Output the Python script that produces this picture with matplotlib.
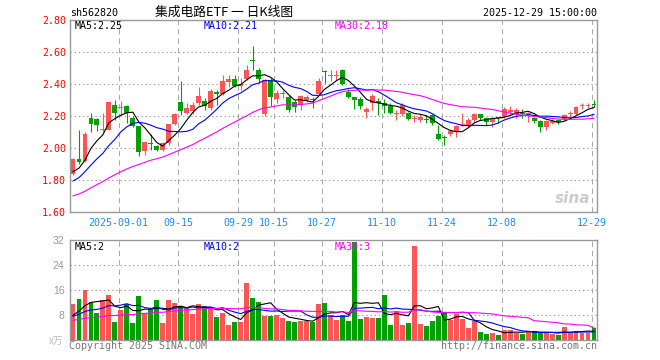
import numpy as np
import matplotlib.pyplot as plt

# 日K数据 (2025-08-20 ~ 2025-12-29)
open_ = [1.84, 1.93, 1.92, 2.19, 2.18, 2.11, 2.11, 2.27, 2.25, 2.26,
         2.185, 2.135, 1.98, 2.03, 2.01, 1.99, 2.03, 2.15, 2.29, 2.22,
         2.23, 2.28, 2.295, 2.25, 2.35, 2.34, 2.41, 2.43, 2.39, 2.43,
         2.55, 2.49, 2.215, 2.425, 2.305, 2.335, 2.32, 2.285, 2.27, 2.30,
         2.302, 2.34, 2.478, 2.45, 2.453, 2.49, 2.35, 2.317, 2.305, 2.228,
         2.28, 2.294, 2.28, 2.265, 2.215, 2.2125, 2.22, 2.18, 2.177, 2.18,
         2.206, 2.0875, 2.063, 2.088, 2.10, 2.145, 2.145, 2.175, 2.2125, 2.19,
         2.16, 2.192, 2.196, 2.222, 2.21, 2.214, 2.206, 2.19, 2.17, 2.13,
         2.155, 2.175, 2.18, 2.211, 2.2125, 2.26, 2.261, 2.27]
high = [1.935, 2.11, 2.10, 2.22, 2.19, 2.22, 2.29, 2.30, 2.294, 2.27,
        2.20, 2.135, 2.045, 2.085, 2.02, 2.04, 2.15, 2.22, 2.42, 2.28,
        2.29, 2.383, 2.31, 2.37, 2.36, 2.456, 2.456, 2.456, 2.435, 2.52,
        2.637, 2.50, 2.43, 2.44, 2.36, 2.36, 2.33, 2.30, 2.33, 2.33,
        2.317, 2.435, 2.4875, 2.4875, 2.4875, 2.495, 2.37, 2.32, 2.32, 2.258,
        2.34, 2.31, 2.304, 2.283, 2.2375, 2.279, 2.227, 2.206, 2.212, 2.206,
        2.2125, 2.144, 2.081, 2.117, 2.144, 2.217, 2.185, 2.221, 2.2125, 2.196,
        2.196, 2.196, 2.258, 2.2625, 2.248, 2.242, 2.227, 2.196, 2.175, 2.175,
        2.179, 2.18, 2.2125, 2.233, 2.2625, 2.283, 2.283, 2.30]
low = [1.83, 1.90, 1.915, 2.10, 2.105, 2.10, 2.11, 2.175, 2.206, 2.155,
       2.13, 1.95, 1.955, 1.987, 1.98, 1.98, 2.02, 2.145, 2.205, 2.21,
       2.21, 2.27, 2.24, 2.24, 2.27, 2.33, 2.38, 2.383, 2.36, 2.425,
       2.487, 2.404, 2.20, 2.26, 2.28, 2.31, 2.227, 2.227, 2.24, 2.29,
       2.252, 2.33, 2.408, 2.42, 2.425, 2.394, 2.31, 2.242, 2.242, 2.185,
       2.237, 2.206, 2.217, 2.21, 2.175, 2.20, 2.175, 2.165, 2.165, 2.154,
       2.144, 2.05, 2.019, 2.075, 2.071, 2.14, 2.133, 2.165, 2.175, 2.144,
       2.133, 2.154, 2.19, 2.206, 2.19, 2.185, 2.165, 2.158, 2.10, 2.112,
       2.15, 2.15, 2.175, 2.192, 2.206, 2.244, 2.248, 2.254]
close = [1.93, 1.91, 2.09, 2.15, 2.145, 2.12, 2.285, 2.22, 2.255, 2.22,
         2.14, 1.975, 2.04, 2.025, 1.99, 2.03, 2.15, 2.21, 2.23, 2.25,
         2.27, 2.325, 2.26, 2.355, 2.34, 2.42, 2.43, 2.39, 2.40, 2.49,
         2.545, 2.43, 2.425, 2.32, 2.345, 2.34, 2.24, 2.255, 2.325, 2.317,
         2.298, 2.42, 2.474, 2.455, 2.458, 2.40, 2.32, 2.30, 2.26, 2.242,
         2.325, 2.28, 2.263, 2.22, 2.218, 2.27, 2.18, 2.19, 2.196, 2.172,
         2.154, 2.056, 2.06, 2.106, 2.137, 2.152, 2.175, 2.2125, 2.185, 2.16,
         2.19, 2.185, 2.242, 2.238, 2.2375, 2.21, 2.22, 2.17, 2.13, 2.17,
         2.168, 2.16, 2.206, 2.214, 2.258, 2.264, 2.265, 2.266]
# 成交量(万手)
volume = [11.6, 13.2, 15.9, 12.1, 8.6, 12.9, 14.5, 5.9, 9.7, 11.6,
          5.5, 14.2, 8.4, 9.8, 12.9, 5.5, 12.9, 11.9, 10.9, 10.6,
          8.4, 11.5, 10.9, 10.1, 7.5, 8.7, 4.8, 5.9, 5.9, 18.2,
          13.5, 12.3, 7.8, 7.8, 8.0, 7.1, 6.1, 5.9, 6.1, 6.1,
          5.9, 11.5, 11.9, 8.0, 6.4, 8.0, 6.1, 31.5, 6.7, 7.4,
          7.0, 7.0, 14.4, 4.8, 9.3, 4.8, 5.4, 30.2, 5.1, 4.5,
          6.1, 7.8, 8.5, 6.4, 8.3, 6.7, 3.9, 6.1, 2.6, 2.0,
          2.2, 1.6, 3.2, 3.2, 2.4, 2.0, 2.7, 2.9, 2.4, 2.2,
          1.9, 1.6, 4.2, 2.4, 2.9, 2.4, 2.4, 3.8]
# 窗口之前29个交易日(用于均线)
prev_close = [1.56, 1.57, 1.53, 1.52, 1.55, 1.60, 1.64, 1.68, 1.70, 1.66,
              1.63, 1.62, 1.64, 1.70, 1.72, 1.70, 1.74, 1.76, 1.78, 1.79,
              1.70, 1.72, 1.74, 1.75, 1.77, 1.80, 1.84, 1.78, 1.91]
prev_volume = [4.8, 5.2, 4.6, 5.5, 6.2, 5.0, 5.8, 6.4, 5.3, 5.9,
               6.1, 5.4, 5.7, 6.0, 5.5, 6.3, 5.6, 5.9, 6.0, 5.8,
               6.8, 7.0, 7.4, 6.8, 8.5, 6.5, 7.2, 6.8, 7.4]

tick_idx = [8, 18, 28, 34, 42, 52, 62, 72, 87]
tick_labels = ['2025-09-01', '09-15', '09-29', '10-15', '10-27',
               '11-10', '11-24', '12-08', '12-29']
price_ticks = [1.60, 1.80, 2.00, 2.20, 2.40, 2.60, 2.80]
vol_ticks = [8, 16, 24, 32]
ma_text = ['MA5:2.25', 'MA10:2.21', 'MA30:2.18']
vol_ma_text = ['MA5:2', 'MA10:2', 'MA30:3']

W, H = 660, 360
RED, GREEN = '#FF5555', '#00A000'
MA_COLORS = ['black', '#0000FF', '#FF00FF']
MONO = 'DejaVu Sans Mono'


def ma(arr, n, size):
    return np.convolve(arr, np.ones(n) / n, mode='valid')[-size:]


def main():
    n = len(close)
    x = np.arange(n)
    o, h, l, c = map(np.array, (open_, high, low, close))
    v = np.array(volume)
    up = c >= o
    colors = np.where(up, RED, GREEN)

    fig = plt.figure(figsize=(W / 100, H / 100), dpi=100)
    ax = fig.add_axes([70 / W, 1 - 212 / H, 527 / W, 192 / H])
    axv = fig.add_axes([70 / W, 1 - 340 / H, 527 / W, 100 / H])

    # K线
    ax.vlines(x, l, h, colors=colors, lw=0.8, zorder=3)
    body = np.maximum(np.abs(c - o), 0.006)
    ax.bar(x, body, bottom=np.minimum(o, c), width=0.82, color=colors,
           lw=0, zorder=4)
    all_c = np.array(prev_close + close)
    for k, col in zip((5, 10, 30), MA_COLORS):
        ax.plot(x, ma(all_c, k, n), color=col, lw=0.8, zorder=5)

    # 成交量
    axv.bar(x, v, width=0.82, color=colors, lw=0, zorder=3)
    all_v = np.array(prev_volume + volume)
    for k, col in zip((5, 10, 30), MA_COLORS):
        axv.plot(x, ma(all_v, k, n), color=col, lw=0.8, zorder=5)

    for a in (ax, axv):
        a.set_xlim(-0.5, n - 0.5)
        for s in a.spines.values():
            s.set_color('#999999')
            s.set_linewidth(1)
        for t in tick_idx:
            a.axvline(t - 0.4, color='#aaaaaa', lw=0.75, ls=(0, (5, 4)),
                      zorder=1)
        a.tick_params(length=0)

    ax.set_ylim(1.60, 2.80)
    ax.set_yticks(price_ticks)
    ax.set_yticklabels([f'{p:.2f}' for p in price_ticks], color='#FF0000',
                       family=MONO, fontsize=7.2)
    ax.tick_params(axis='y', pad=3)
    for p in price_ticks[1:-1]:
        ax.axhline(p, color='#999999', lw=0.75, ls=(0, (1.3, 2.7)), zorder=1)
    ax.set_xticks([t - 0.4 for t in tick_idx])
    ax.set_xticklabels(tick_labels, color='#1E8CF0', family=MONO, fontsize=7.2)
    ax.tick_params(axis='x', pad=4)

    axv.set_ylim(0, 32)
    axv.set_yticks(vol_ticks)
    axv.set_yticklabels([str(t) for t in vol_ticks], color='#999999',
                        family='Liberation Sans', fontsize=7.5)
    axv.tick_params(axis='y', pad=4)
    axv.set_xticks([])
    for t in vol_ticks[:-1]:
        axv.axhline(t, color='#999999', lw=0.75, ls=(0, (1.3, 2.7)), zorder=1)

    def txt(px, py, s, **kw):
        fig.text(px / W, 1 - py / H, s, va='center', **kw)

    txt(70, 13, 'sh562820', family=MONO, fontsize=7.2)
    txt(224, 12.5, '集成电路ETF 一 日K线图', ha='center', fontsize=9.2,
        family=['Noto Sans CJK SC', 'DejaVu Sans'])
    txt(597, 13, '2025-12-29 15:00:00', ha='right', family=MONO, fontsize=7.2)
    for px, s, col in zip((75, 204, 335), ma_text, MA_COLORS):
        txt(px, 26, s, family=MONO, fontsize=7.2, color=col)
    for px, s, col in zip((75, 204, 335), vol_ma_text, MA_COLORS):
        txt(px, 247, s, family=MONO, fontsize=7.2, color=col, zorder=6)
    txt(49, 341, 'x万', family=['Noto Sans CJK SC', 'DejaVu Sans'],
        fontsize=7, color='#bbbbbb', style='italic')
    txt(69, 346, 'Copyright 2025 SINA.COM', family=MONO, fontsize=7.2,
        color='#777777')
    txt(597, 346, 'http://finance.sina.com.cn', ha='right', family=MONO,
        fontsize=7.2, color='#777777')
    txt(590, 198, 'sina', ha='right', fontsize=11, color='#cccccc',
        weight='bold', style='italic')

    plt.savefig('out.png', dpi=100)


if __name__ == '__main__':
    main()
